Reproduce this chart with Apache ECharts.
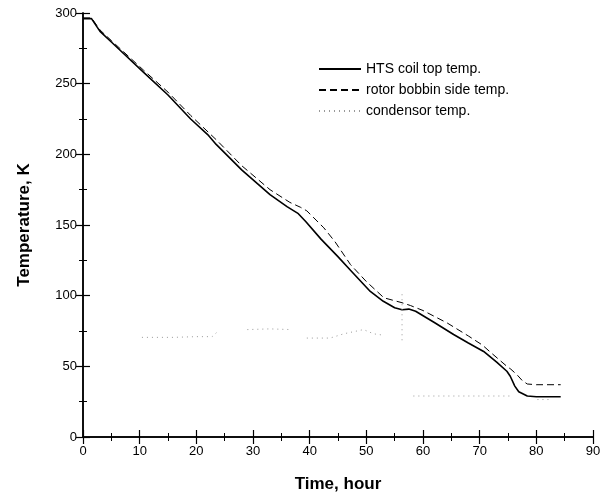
<!DOCTYPE html>
<html><head><meta charset="utf-8">
<script src="https://cdn.jsdelivr.net/npm/echarts@6/dist/echarts.min.js"></script>
<style>html,body{margin:0;padding:0;background:#fff}#c{width:604px;height:501px}</style>
</head><body><div id="c"></div>
<script>
// Time (hour) and temperature (K) readings
const htsTime = [0,1.5,2.5,3,5,10.7,15,19,22,23.5,28,33,36,38,39.3,42,44.9,47.2,50.7,53,55,56.3,57.5,58.7,62,65.4,68,70.7,73,74.8,75.4,76.2,76.9,78.4,80,84.3];
const htsTemp = [296,296,290,287,279.5,258,242,225,214,207,189,171.5,163,158,152.5,140,128,118,103,96,91.5,90,90.5,89,81,72.5,66.5,60.5,53,46.5,43,36,32,29,28.5,28.5];

const rotorTime = [0,1.5,3,5,10.7,15,19,23.6,28,33,36.5,38.4,39.5,42.5,44.5,47.2,50,53.1,56.3,57.8,60,64.3,68,70.5,71.9,74.8,75.5,76.6,77.5,78.4,80,84.3];
const rotorTemp = [296.5,296.5,288,280.5,259.5,244,227.5,210,192,175,166,162.5,160,148,138,122,110,98.5,95,93,89.5,80.6,71.5,65,60,50,48,44,40,37.5,37,37];

// condensor: null marks a gap in the record
const condTime = [10.4,16,20,22.8,23.6,26,29,33,36.7,38,39.5,43.6,46,49.5,51.3,53.1,54.5,56.3,56.3,57,58.3,65,70,75.8,78,80.2,82.5];
const condTemp = [70.5,70.5,71,71,74,null,76,76.5,76,null,70,70,73,76,73,72,null,101,68,null,29,29,29,29,null,26.5,26.5];

const seriesNames = ['HTS coil top temp.','rotor bobbin side temp.','condensor temp.'];

const zip = (a,b)=>a.map((x,i)=>[x, b[i]===null ? '-' : b[i]]);
const font = 'Liberation Sans, Arial, sans-serif';
const chart = echarts.init(document.getElementById('c'), null, {renderer:'canvas'});
const axisCommon = {
  axisLine:{lineStyle:{color:'#000',width:1.5}},
  axisTick:{inside:true,length:7,lineStyle:{color:'#000',width:1.2}},
  minorTick:{show:true,splitNumber:2,length:4,lineStyle:{color:'#000',width:1}},
  splitLine:{show:false}
};
chart.setOption({
  animation:false,
  backgroundColor:'#fff',
  grid:{left:83,right:11,top:13,bottom:64},
  legend:{
    orient:'vertical',left:313,top:57,itemWidth:42,itemHeight:14,itemGap:7,
    itemStyle:{opacity:0},
    textStyle:{fontFamily:font,fontSize:14,color:'#000'},
    data:seriesNames
  },
  xAxis:[
    Object.assign({type:'value',min:0,max:90,interval:10,position:'bottom',
      name:'Time, hour',nameLocation:'middle',nameGap:39,
      nameTextStyle:{fontFamily:font,fontSize:17,fontWeight:'bold',color:'#000'},
      axisLabel:{fontFamily:font,fontSize:13,color:'#000',margin:8}},axisCommon),
    Object.assign({type:'value',min:0,max:90,interval:10,position:'top',
      axisLabel:{show:false}},axisCommon)
  ],
  yAxis:[
    Object.assign({type:'value',min:0,max:300,interval:50,position:'left',
      name:'Temperature, K',nameLocation:'middle',nameGap:50,
      nameTextStyle:{fontFamily:font,fontSize:17,fontWeight:'bold',color:'#000'},
      axisLabel:{fontFamily:font,fontSize:13,color:'#000',margin:6}},axisCommon),
    Object.assign({type:'value',min:0,max:300,interval:50,position:'right',
      axisLabel:{show:false}},axisCommon)
  ],
  series:[
    {name:seriesNames[0],type:'line',symbol:'none',data:zip(htsTime,htsTemp),
      lineStyle:{color:'#000',width:1.6},itemStyle:{color:'#000'}},
    {name:seriesNames[1],type:'line',symbol:'none',data:zip(rotorTime,rotorTemp),
      lineStyle:{color:'#000',width:1,type:[7,4]},itemStyle:{color:'#000'}},
    {name:seriesNames[2],type:'line',symbol:'none',connectNulls:false,data:zip(condTime,condTemp),
      lineStyle:{color:'#999',width:1,type:[1,4]},itemStyle:{color:'#bbb'}}
  ]
});
</script></body></html>
